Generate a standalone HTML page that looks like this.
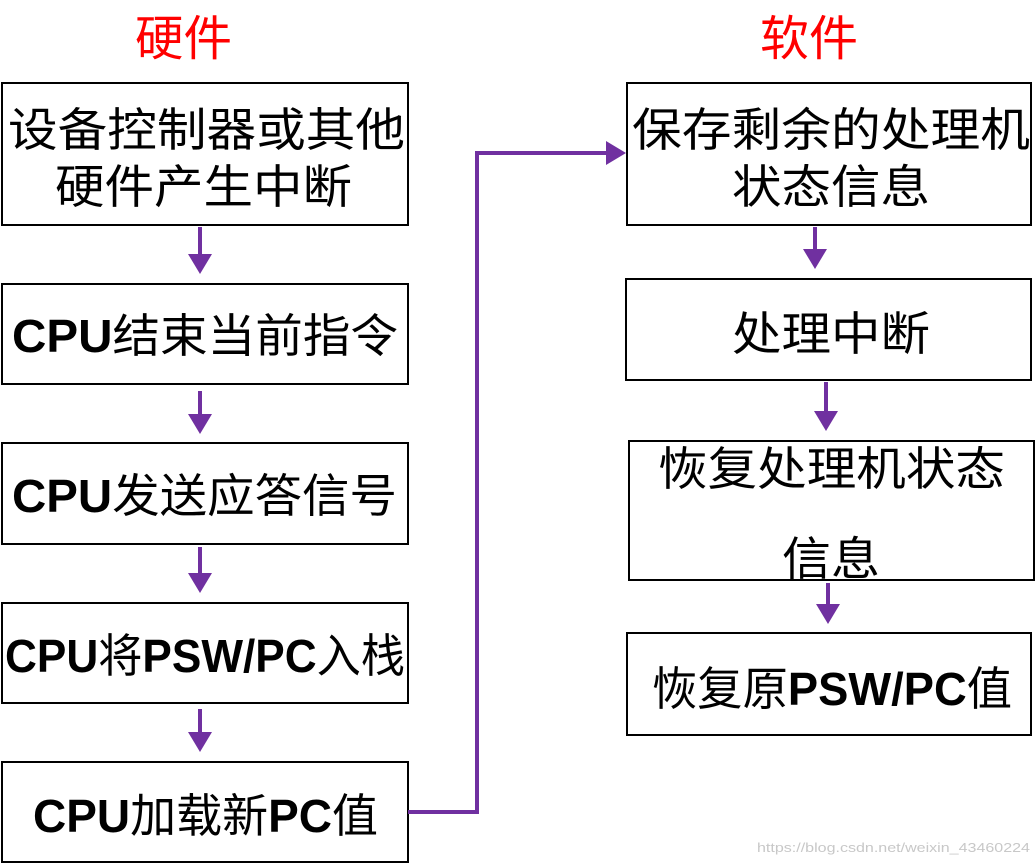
<!DOCTYPE html>
<html><head><meta charset="utf-8"><style>
html,body{margin:0;padding:0;background:#fff;}
svg{display:block;}
text{font-family:"Liberation Sans","Noto Sans CJK SC",sans-serif;font-size:46px;fill:#000;}
.b{font-weight:bold;}
.t{fill:#ff0000;font-size:48px;}
</style></head><body>
<svg width="1036" height="865" viewBox="0 0 1036 865" xmlns="http://www.w3.org/2000/svg">
<defs><marker id="a" markerWidth="6" markerHeight="6" refX="4" refY="3" orient="auto" markerUnits="strokeWidth"><path d="M0,0 L5,3 L0,6 z" fill="#7030A0"/></marker></defs>
<text class="t" x="135" y="55" textLength="97" lengthAdjust="spacingAndGlyphs">硬件</text>
<text class="t" x="760" y="55" textLength="98" lengthAdjust="spacingAndGlyphs">软件</text>
<g fill="none" stroke="#000" stroke-width="2">
<rect x="2" y="83" width="406" height="142"/>
<rect x="2" y="284" width="406" height="100"/>
<rect x="2" y="443" width="406" height="101"/>
<rect x="2" y="603" width="406" height="100"/>
<rect x="2" y="762" width="406" height="100"/>
<rect x="627" y="83" width="404" height="142"/>
<rect x="626" y="279" width="405" height="101"/>
<rect x="629" y="441" width="405" height="139"/>
<rect x="627" y="633" width="404" height="102"/>
</g>
<g stroke="#7030A0" stroke-width="4" fill="none" marker-end="url(#a)">
<line x1="200" y1="227" x2="200" y2="270"/>
<line x1="200" y1="391" x2="200" y2="430"/>
<line x1="200" y1="547" x2="200" y2="589"/>
<line x1="200" y1="709" x2="200" y2="748"/>
<line x1="815" y1="227" x2="815" y2="265"/>
<line x1="826" y1="382" x2="826" y2="427"/>
<line x1="828" y1="583" x2="828" y2="620"/>
<polyline points="408,812 477,812 477,153 622,153"/>
</g>
<text x="8" y="146" textLength="397" lengthAdjust="spacingAndGlyphs">设备控制器或其他</text>
<text x="55" y="203" textLength="297" lengthAdjust="spacingAndGlyphs">硬件产生中断</text>
<text x="12" y="352" textLength="386" lengthAdjust="spacingAndGlyphs"><tspan class="b">CPU</tspan>结束当前指令</text>
<text x="12" y="512" textLength="385" lengthAdjust="spacingAndGlyphs"><tspan class="b">CPU</tspan>发送应答信号</text>
<text x="5" y="672" textLength="400" lengthAdjust="spacingAndGlyphs"><tspan class="b">CPU</tspan>将<tspan class="b">PSW/PC</tspan>入栈</text>
<text x="33" y="832" textLength="345" lengthAdjust="spacingAndGlyphs"><tspan class="b">CPU</tspan>加载新<tspan class="b">PC</tspan>值</text>
<text x="632" y="146" textLength="398" lengthAdjust="spacingAndGlyphs">保存剩余的处理机</text>
<text x="732" y="203" textLength="198" lengthAdjust="spacingAndGlyphs">状态信息</text>
<text x="732" y="350" textLength="198" lengthAdjust="spacingAndGlyphs">处理中断</text>
<text x="658" y="485" textLength="347" lengthAdjust="spacingAndGlyphs">恢复处理机状态</text>
<text x="782" y="575" textLength="98" lengthAdjust="spacingAndGlyphs">信息</text>
<text x="652" y="705" textLength="360" lengthAdjust="spacingAndGlyphs">恢复原<tspan class="b">PSW/PC</tspan>值</text>
<text x="757" y="852" style="font-size:13px;fill:#c8c8c8" textLength="273" lengthAdjust="spacingAndGlyphs">https://blog.csdn.net/weixin_43460224</text>
</svg>
</body></html>
